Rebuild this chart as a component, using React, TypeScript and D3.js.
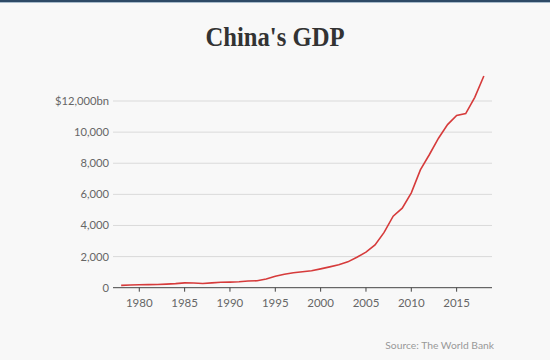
import React from "react";
import * as d3 from "d3";

const years = [1978,1979,1980,1981,1982,1983,1984,1985,1986,1987,1988,1989,1990,1991,1992,1993,1994,1995,1996,1997,1998,1999,2000,2001,2002,2003,2004,2005,2006,2007,2008,2009,2010,2011,2012,2013,2014,2015,2016,2017,2018];
const gdp = [149.5,178.3,191.1,195.9,205.1,230.7,260.0,309.5,300.8,273.0,312.4,347.8,360.9,383.4,426.9,444.7,564.3,734.5,863.7,961.6,1029.0,1094.0,1211.3,1339.4,1470.6,1660.3,1955.3,2286.0,2752.1,3552.2,4598.2,5110.0,6100.6,7572.6,8560.5,9607.2,10482.4,11064.7,11191.0,12237.7,13608.2];
const yTicks = [0,2000,4000,6000,8000,10000,12000];
const xTicks = [1980,1985,1990,1995,2000,2005,2010,2015];
const title = "China's GDP";
const source = "Source: The World Bank";

export default function App() {
  const W = 554, H = 362;
  const x = d3.scaleLinear().domain([1977.1, 2018.9]).range([113, 492]);
  const y = d3.scaleLinear().domain([0, 12000]).range([287.7, 101]);
  const pts = years.map((yr, i) => [yr, gdp[i]] as [number, number]);
  const line = d3.line<[number, number]>().x(d => x(d[0])).y(d => y(d[1]));
  const fmt = d3.format(",");
  const sans = "Lato, 'Open Sans', sans-serif";
  return (
    <div style={{ position: "fixed", left: 0, top: 0 }}>
      <svg width={W} height={H} style={{ display: "block" }}>
        <rect x={0} y={0} width={W} height={H} fill="#ffffff" />
        <rect x={0} y={0} width={550} height={360} fill="#f8f8f8" />
        <rect x={0} y={0} width={550} height={2} fill="#2e4a66" />
        <rect x={0} y={2} width={550} height={1} fill="#a9bccc" />
        <text x={275} y={46} textAnchor="middle" fontFamily="'Liberation Serif', 'DejaVu Serif', serif" fontWeight="bold" fontSize={28} fill="#333" textLength={139} lengthAdjust="spacingAndGlyphs">{title}</text>
        {yTicks.filter(t => t > 0).map(t => (
          <line key={"g" + t} x1={113} x2={492} y1={y(t)} y2={y(t)} stroke="#dadada" strokeWidth={1} />
        ))}
        {yTicks.map(t => (
          <text key={"yl" + t} x={109} y={y(t)} dy="0.35em" textAnchor="end" fontFamily={sans} fontSize={11.2} fill="#666">
            {t === 12000 ? "$" + fmt(t) + "bn" : fmt(t)}
          </text>
        ))}
        <line x1={113} x2={492} y1={y(0)} y2={y(0)} stroke="#444" strokeWidth={1} />
        {xTicks.map(t => (
          <g key={"x" + t}>
            <line x1={x(t)} x2={x(t)} y1={y(0)} y2={y(0) + 4} stroke="#444" strokeWidth={1} />
            <text x={x(t)} y={307} textAnchor="middle" fontFamily={sans} fontSize={11.5} fill="#666">{t}</text>
          </g>
        ))}
        <path d={line(pts) || ""} fill="none" stroke="#d63b3b" strokeWidth={1.6} />
        <text x={494} y={349} textAnchor="end" fontFamily={sans} fontSize={10.3} fill="#999">{source}</text>
      </svg>
    </div>
  );
}
